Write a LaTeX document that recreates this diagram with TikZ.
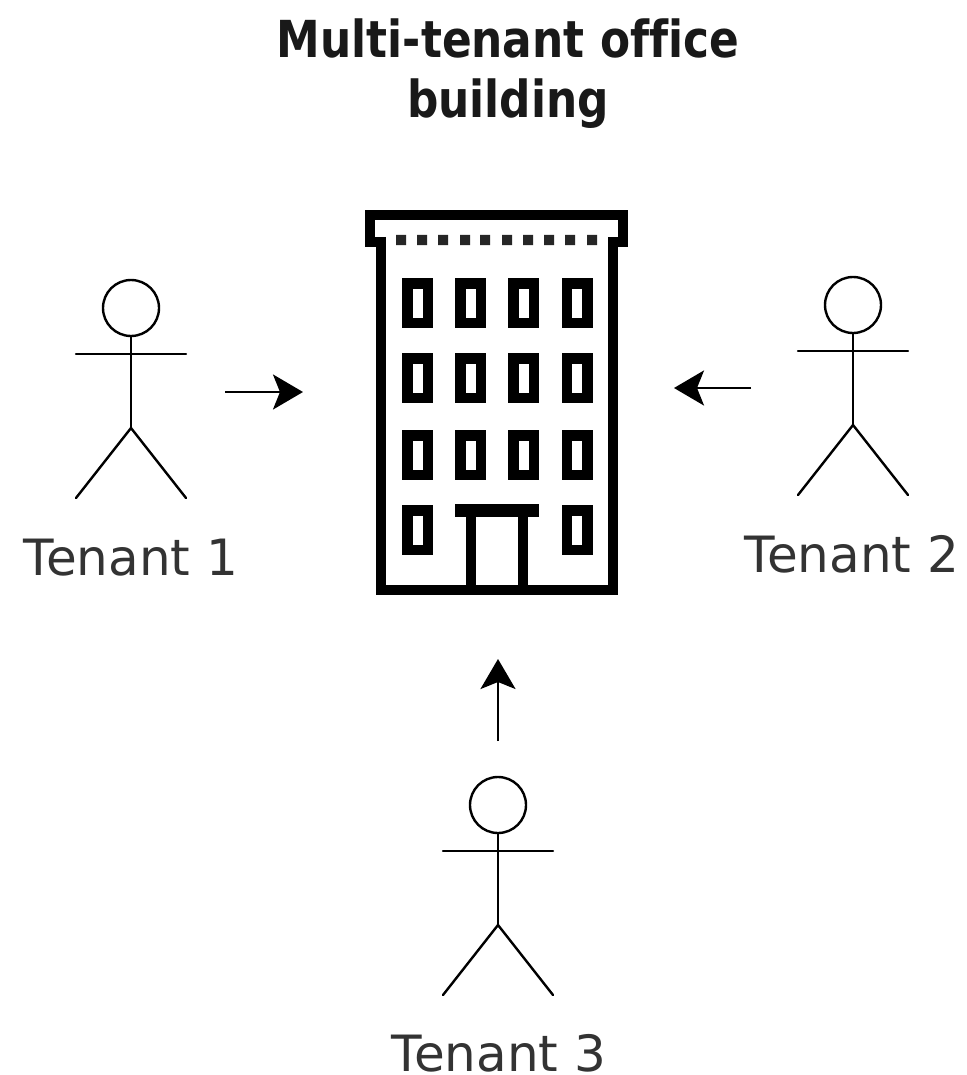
\documentclass[tikz,border=0pt]{standalone}
\usepackage{fontspec}
\setmainfont{DejaVu Sans}[Ligatures=NoCommon]
\newfontfamily\ttlfont{DejaVu Sans}[FakeStretch=0.86,Ligatures=NoCommon]
\usetikzlibrary{arrows.meta}
\tikzset{
  figline/.style={draw=black,line width=2.4pt,line cap=round},
  headnode/.style={circle,draw=black,line width=2.4pt,fill=white,minimum size=56pt,inner sep=0pt},
  lbl/.style={text=black!80,font=\fontsize{50}{54}\selectfont,anchor=base,inner sep=0pt},
  ttl/.style={text=black!90,font=\ttlfont\bfseries\fontsize{51}{56}\selectfont,anchor=base,inner sep=0pt},
  flow/.style={draw=black,line width=2.6pt,-{Stealth[length=30pt,width=35pt,inset=7pt]}},
  bldg/.style={draw=black,line width=10pt,miter limit=10},
  win/.style={draw=black,line width=10.5pt,fill=white}
}
\newcommand{\personfig}[2]{%
  \node[headnode] (h#2) at (#1) {};
  \coordinate (a#2l) at ([shift={(-55,46)}]#1);
  \coordinate (a#2r) at ([shift={(55,46)}]#1);
  \coordinate (hip#2) at ([shift={(0,120)}]#1);
  \coordinate (fl#2) at ([shift={(-55,190)}]#1);
  \coordinate (fr#2) at ([shift={(55,190)}]#1);
  \draw[figline] (h#2.south) -- (hip#2);
  \draw[figline] (a#2l) -- (a#2r);
  \draw[figline] (fl#2) -- (hip#2) -- (fr#2);
}
\newcommand{\winfig}[2]{\draw[win] (#1-10.25,#2+5.25) rectangle (#1+10.25,#2+44.75);}
\begin{document}
\begin{tikzpicture}[x=1pt,y=-1pt]
\useasboundingbox[fill=white] (0,0) rectangle (966,1075);
% title
\node[ttl] (t1) at (508,58) {Multi-tenant office};
\node[ttl] (t2) at (508,118) {building};
% building
\draw[bldg] (381,242) -- (370,242) -- (370,215.5) -- (623,215.5) -- (623,242) -- (613,242);
\draw[bldg,line cap=butt] (381,237) -- (381,590) -- (613,590) -- (613,237);
\fill[black!85] \foreach \x in {401,422,443,465,485,507,528,549,570,592} {(\x-5,235) rectangle (\x+5,245)};
\foreach \y in {278,353,430,505} {
  \winfig{417.5}{\y}
  \winfig{577}{\y}
}
\foreach \y in {278,353,430} {
  \winfig{470.5}{\y}
  \winfig{523.5}{\y}
}
\fill[black] (455,504) rectangle (539,517);
\draw[bldg,line cap=butt] (471,510) -- (471,590);
\draw[bldg,line cap=butt] (523,510) -- (523,590);
% people
\personfig{131,308}{A}
\personfig{853,305}{B}
\personfig{498,805}{C}
\node[lbl] (l1) at (131,575) {Tenant 1};
\node[lbl] (l2) at (852,572) {Tenant 2};
\node[lbl] (l3) at (499,1071) {Tenant 3};
% arrows
\coordinate (s1) at (225,392); \coordinate (e1) at (303,392);
\coordinate (s2) at (751,388); \coordinate (e2) at (674,388);
\coordinate (s3) at (498,741); \coordinate (e3) at (498,659);
\draw[flow] (s1) -- (e1);
\draw[flow] (s2) -- (e2);
\draw[flow] (s3) -- (e3);
\end{tikzpicture}
\end{document}
